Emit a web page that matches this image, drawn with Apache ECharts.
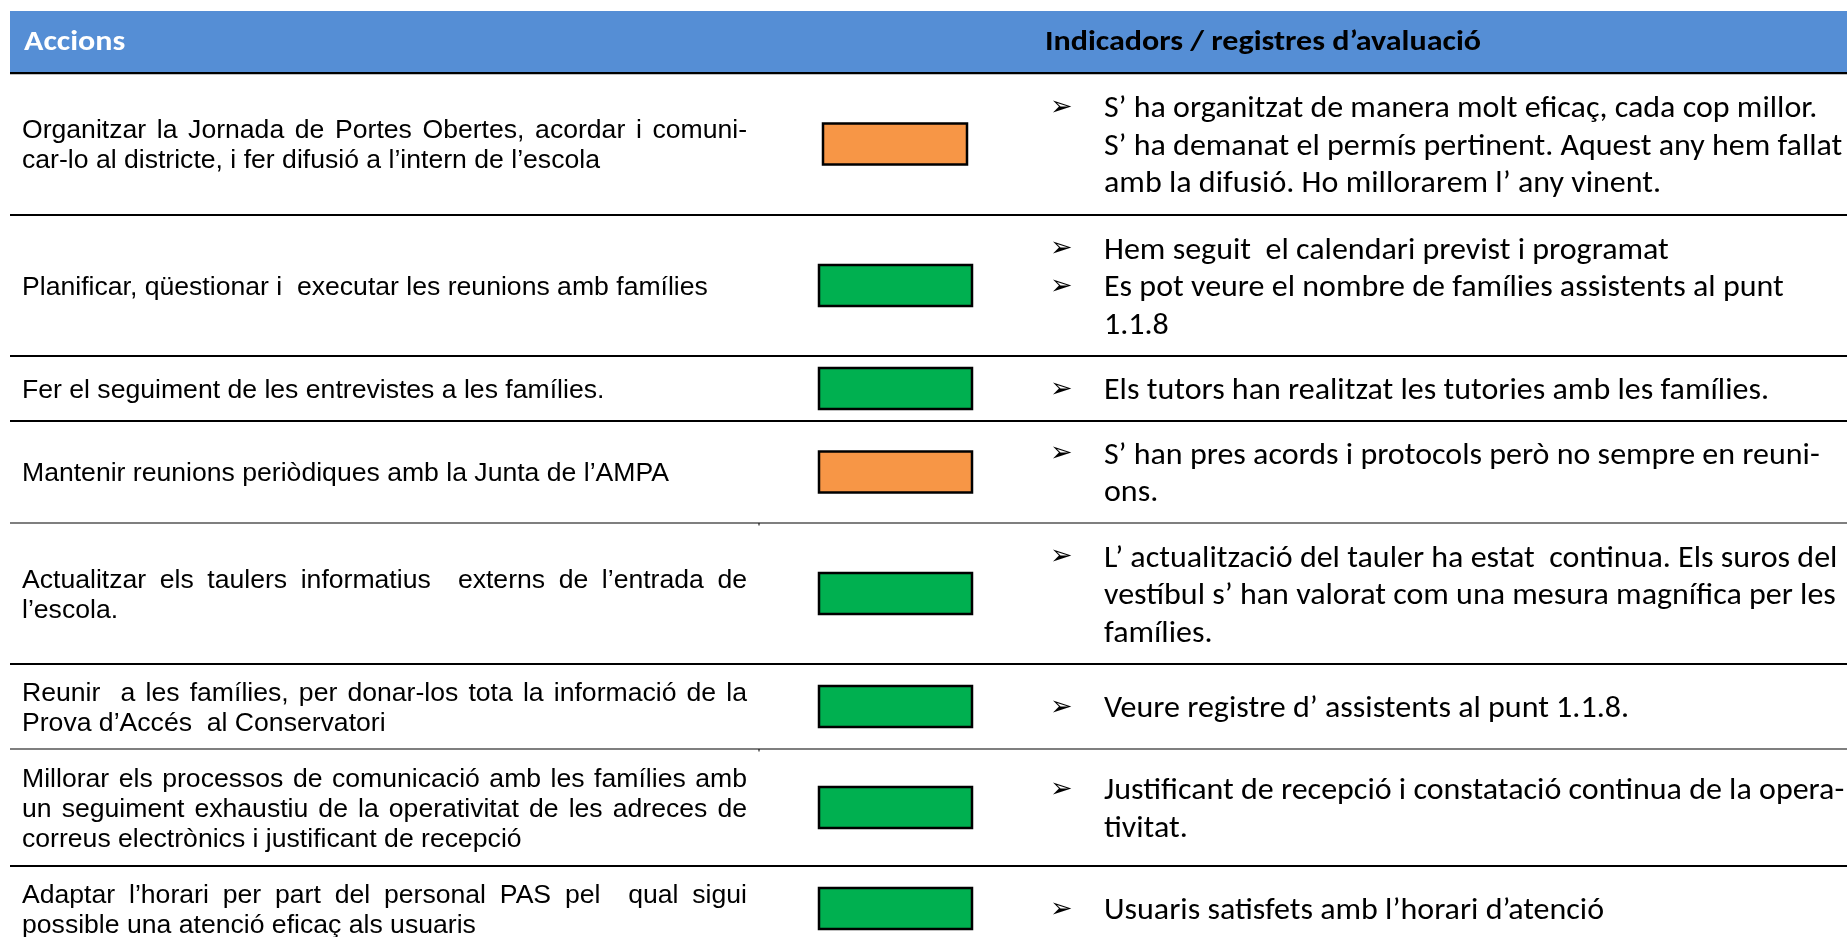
<!DOCTYPE html>
<html><head><meta charset="utf-8">
<script src="https://cdn.jsdelivr.net/npm/echarts@6/dist/echarts.min.js"></script>
<style>html,body{margin:0;padding:0;background:#fff}#c{width:1847px;height:937px}</style>
</head><body><div id="c"></div>
<script>
// ---------------- DATA ----------------
const headers = ['Accions', 'Indicadors / registres d’avaluació'];
const actions = [
  ['Organitzar la Jornada de Portes Obertes, acordar i comuni-', 'car-lo al districte, i fer difusió a l’intern de l’escola'],
  ['Planificar, qüestionar i  executar les reunions amb famílies'],
  ['Fer el seguiment de les entrevistes a les famílies.'],
  ['Mantenir reunions periòdiques amb la Junta de l’AMPA'],
  ['Actualitzar els taulers informatius  externs de l’entrada de', 'l’escola.'],
  ['Reunir  a les famílies, per donar-los tota la informació de la', 'Prova d’Accés  al Conservatori'],
  ['Millorar els processos de comunicació amb les famílies amb', 'un seguiment exhaustiu de la operativitat de les adreces de', 'correus electrònics i justificant de recepció'],
  ['Adaptar l’horari per part del personal PAS pel  qual sigui', 'possible una atenció eficaç als usuaris']
];
const statuses = ['En procés', 'Assolit', 'Assolit', 'En procés', 'Assolit', 'Assolit', 'Assolit', 'Assolit'];
const indicators = [
  [['S’ ha organitzat de manera molt eficaç, cada cop millor.', 'S’ ha demanat el permís pertinent. Aquest any hem fallat', 'amb la difusió. Ho millorarem l’ any vinent.']],
  [['Hem seguit  el calendari previst i programat'], ['Es pot veure el nombre de famílies assistents al punt', '1.1.8']],
  [['Els tutors han realitzat les tutories amb les famílies.']],
  [['S’ han pres acords i protocols però no sempre en reuni-', 'ons.']],
  [['L’ actualització del tauler ha estat  continua. Els suros del', 'vestíbul s’ han valorat com una mesura magnífica per les', 'famílies.']],
  [['Veure registre d’ assistents al punt 1.1.8.']],
  [['Justificant de recepció i constatació continua de la opera-', 'tivitat.']],
  [['Usuaris satisfets amb l’horari d’atenció']]
];

// ---------------- LAYOUT / STYLE ----------------
const W = 1847, H = 937;
const rowEdges = [73, 215, 356, 421, 523, 664, 749, 866, 951];
const ruleWidths = [2, 2, 2, 1.2, 2, 1.2, 2];
const statusColor = {'En procés': '#F79646', 'Assolit': '#00B050'};
const leftFamily = '"Liberation Sans", Arial, sans-serif', leftSize = 26.6, leftX = 22, justifyW = 725, leftLH = 30, leftOff = 2;
const rightFamily = 'Carlito, Lato, sans-serif', rightSize = 30, rightX = 1104, bulletX = 1050, rightLH = 37.5, rightOff = 3;
const headFamily = 'Carlito, Lato, sans-serif', headSize = 28;

const ctx = document.createElement('canvas').getContext('2d');
function measure(t, font) { ctx.font = font; return ctx.measureText(t).width; }
const leftFont = leftSize + 'px ' + leftFamily;
const rightFont = rightSize + 'px ' + rightFamily;
const headFont = 'bold ' + headSize + 'px ' + headFamily;
const rightScale = 665 / measure('Els tutors han realitzat les tutories amb les famílies.', rightFont);
const headScale = 436 / measure(headers[1], headFont);

function txt(text, x, y, opt) {
  return Object.assign({type: 'text', x: x, y: y, silent: true,
    style: Object.assign({text: text, x: 0, y: 0, fill: '#000', textVerticalAlign: 'middle', textAlign: 'left'}, opt.style)},
    opt.el || {});
}

function renderRow(params, api) {
  const i = params.dataIndex;
  const px = v => api.coord([v, 0])[0];
  const py = v => api.coord([0, v])[1];
  const top = py(rowEdges[i]), bot = py(rowEdges[i + 1]);
  const mid = (top + bot) / 2;
  const ch = [];
  // status box
  const bw = i === 0 ? 144 : 153, bcx = i === 0 ? 895 : 895.5, bh = 41;
  ch.push({type: 'rect', shape: {x: px(bcx - bw / 2), y: mid - bh / 2, width: px(bcx + bw / 2) - px(bcx - bw / 2), height: bh},
    style: {fill: statusColor[statuses[i]], stroke: '#000', lineWidth: 2.5}});
  // left text
  const lines = actions[i], n = lines.length;
  const y0 = mid + leftOff - (n - 1) * leftLH / 2;
  lines.forEach((ln, j) => {
    const y = y0 + j * leftLH;
    const st = {fontSize: leftSize, fontFamily: leftFamily};
    if (n > 1 && j < n - 1) {
      const words = ln.split(' ');
      const total = words.reduce((a, w) => a + measure(w, leftFont), 0);
      const gap = (justifyW - total) / (words.length - 1);
      let x = leftX;
      words.forEach(w => {
        if (w) ch.push(txt(w, px(x), y, {style: st}));
        x += measure(w, leftFont) + gap;
      });
    } else {
      ch.push(txt(ln, px(leftX), y, {style: st}));
    }
  });
  // right text
  const paras = indicators[i];
  const N = paras.reduce((a, p) => a + p.length, 0);
  let k = 0;
  const r0 = mid + rightOff - (N - 1) * rightLH / 2;
  paras.forEach(p => {
    p.forEach((ln, j) => {
      const y = r0 + k * rightLH;
      if (j === 0) ch.push(txt('➢', px(bulletX), y - 2, {style: {fontSize: 27, fontFamily: '"DejaVu Sans", sans-serif'}}));
      ch.push(txt(ln, px(rightX), y, {style: {fontSize: rightSize, fontFamily: rightFamily}, el: {scaleX: rightScale}}));
      k++;
    });
  });
  // bottom rule
  if (i < rowEdges.length - 2) {
    const lw = ruleWidths[i];
    ch.push({type: 'rect', shape: {x: px(10), y: bot - lw / 2, width: px(W) - px(10), height: lw}, style: {fill: '#000'}});
    if (lw < 2) ch.push({type: 'rect', shape: {x: px(758.5), y: bot, width: 1, height: 2.5}, style: {fill: '#000'}});
  }
  return {type: 'group', children: ch};
}

const chart = echarts.init(document.getElementById('c'));
chart.setOption({
  animation: false,
  backgroundColor: '#fff',
  grid: {left: 0, right: 0, top: 0, bottom: 0},
  xAxis: {type: 'value', min: 0, max: W, show: false},
  yAxis: {type: 'value', min: 0, max: H, inverse: true, show: false},
  graphic: [
    {type: 'rect', shape: {x: 10, y: 11, width: W - 10, height: 61}, style: {fill: '#558ED5'}, silent: true},
    {type: 'rect', shape: {x: 10, y: 72, width: W - 10, height: 2.2}, style: {fill: '#000'}, silent: true},
    {type: 'text', x: 24, y: 43, silent: true, scaleX: headScale,
      style: {text: headers[0], fontSize: headSize, fontWeight: 'bold', fontFamily: headFamily, fill: '#fff', textVerticalAlign: 'middle'}},
    {type: 'text', x: 1045, y: 43, silent: true, scaleX: headScale,
      style: {text: headers[1], fontSize: headSize, fontWeight: 'bold', fontFamily: headFamily, fill: '#000', textVerticalAlign: 'middle'}}
  ],
  series: [{
    type: 'custom',
    renderItem: renderRow,
    data: statuses.map((s, i) => [i]),
    clip: false
  }]
});
</script></body></html>
